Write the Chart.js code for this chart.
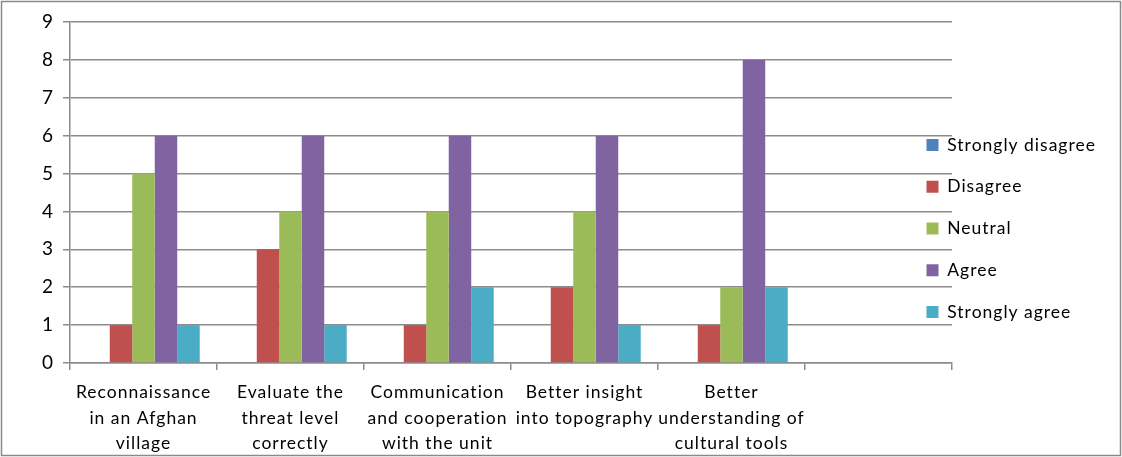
<!DOCTYPE html>
<html><head><meta charset="utf-8">
<script src="https://cdn.jsdelivr.net/npm/chart.js@4.4.1/dist/chart.umd.min.js"></script>
<style>html,body{margin:0;padding:0;background:#fff}canvas{display:block}</style>
</head><body>
<canvas id="c" width="1122" height="457"></canvas>
<script>
const categories = [
  ["Reconnaissance","in an Afghan","village"],
  ["Evaluate the","threat level","correctly"],
  ["Communication","and cooperation","with the unit"],
  ["Better insight","into topography"],
  ["Better","understanding of","cultural tools"],
  ""
];
const seriesNames = ["Strongly disagree","Disagree","Neutral","Agree","Strongly agree"];
const stronglyDisagree = [0,0,0,0,0,null];
const disagree         = [1,3,1,2,1,null];
const neutral          = [5,4,4,4,2,null];
const agree            = [6,6,6,6,8,null];
const stronglyAgree    = [1,1,2,1,2,null];
const yMin = 0, yMax = 9, yStep = 1;

const seriesColors = ["#4F81BD","#C0504D","#9BBB59","#8064A2","#4BACC6"];
const seriesValues = [stronglyDisagree, disagree, neutral, agree, stronglyAgree];
const FONT = "Lato";
const FSIZE = 17.5;
const GRID = "#8c8c8c";

function spacing(chart) {
  try { chart.ctx.letterSpacing = '1px'; } catch (e) {}
}

const frame = {
  id: 'frame',
  beforeUpdate(chart) { spacing(chart); },
  beforeLayout(chart) { spacing(chart); },
  beforeDraw(chart) {
    spacing(chart);
    const ctx = chart.ctx;
    ctx.save();
    ctx.fillStyle = '#fff';
    ctx.fillRect(0, 0, chart.width, chart.height);
    ctx.strokeStyle = '#8a8a8a';
    ctx.lineWidth = 1.5;
    ctx.strokeRect(1.5, 1.5, chart.width - 3, chart.height - 3);
    ctx.restore();
    const lg = chart.legend;
    if (lg) {
      const pad = lg.options.labels.padding;
      lg.left = 926.5 - pad; lg.width = 200; lg.right = lg.left + lg.width;
      lg.top = 112; lg.height = 340; lg.bottom = lg.top + lg.height;
    }
  }
};

new Chart(document.getElementById('c'), {
  type: 'bar',
  data: {
    labels: categories,
    datasets: seriesNames.map((n, i) => ({
      label: n,
      data: seriesValues[i],
      backgroundColor: seriesColors[i],
      borderWidth: 0,
      categoryPercentage: 0.765,
      barPercentage: 1.0
    }))
  },
  options: {
    responsive: false,
    animation: false,
    layout: { padding: { top: 22, right: 170, bottom: 0, left: 0 } },
    plugins: {
      tooltip: { enabled: false },
      legend: {
        position: 'chartArea',
        align: 'start',
        labels: {
          boxWidth: 12, boxHeight: 12,
          padding: 41.75 - FSIZE,
          color: '#000',
          font: { family: FONT, size: FSIZE }
        }
      }
    },
    scales: {
      x: {
        afterFit: s => { s.height = 94; },
        grid: { drawOnChartArea: false, drawTicks: true, tickLength: 7, color: GRID, lineWidth: 1.5 },
        border: { display: true, color: GRID, width: 1.5 },
        ticks: { color: '#000', padding: 10, maxRotation: 0, autoSkip: false,
                 font: { family: FONT, size: FSIZE, lineHeight: 25.5 / FSIZE } }
      },
      y: {
        min: yMin, max: yMax,
        afterFit: s => { s.width = 70; },
        grid: { color: GRID, lineWidth: 1.5, tickLength: 7 },
        border: { display: true, color: GRID, width: 1.5 },
        ticks: { stepSize: yStep, color: '#000', padding: 9,
                 font: { family: FONT, size: 19 } }
      }
    }
  },
  plugins: [frame]
});
</script>
</body></html>
